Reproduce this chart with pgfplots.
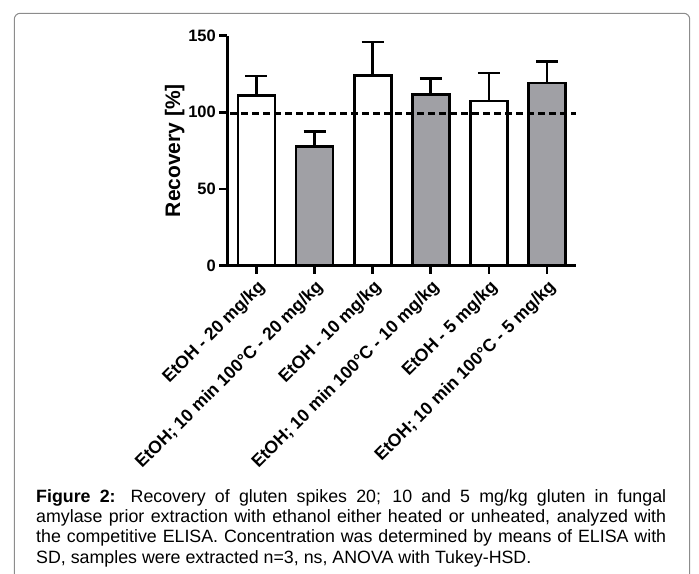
\documentclass[border=0pt]{standalone}
\usepackage{fontspec}
\setmainfont{Liberation Sans}
\usepackage{pgfplots}
\pgfplotsset{compat=1.18}
\definecolor{bargray}{RGB}{160,160,165}
\definecolor{framegray}{RGB}{140,140,140}
\begin{document}
\begin{tikzpicture}
\path[use as bounding box] (0,0) rectangle (699bp,574bp);
\draw[framegray, line width=1bp, rounded corners=6bp] (14.3bp,-10bp) -- (14.3bp,560.7bp) -- (689.7bp,560.7bp) -- (689.7bp,-10bp);
\begin{axis}[
  at={(227.3bp,308.5bp)}, anchor=south west,
  scale only axis, width=348.9bp, height=229.8bp,
  xmin=-0.5, xmax=5.5, ymin=0, ymax=150,
  clip=false,
  axis lines=left,
  axis line style={-, line width=2.7bp, black},
  tick align=outside,
  major tick length=8bp,
  tick style={line width=2.7bp, black},
  xtick={0,1,2,3,4,5},
  xticklabels={{EtOH - 20 mg/kg},{EtOH; 10 min 100°C - 20 mg/kg},{EtOH - 10 mg/kg},{EtOH; 10 min 100°C - 10 mg/kg},{EtOH - 5 mg/kg},{EtOH; 10 min 100°C - 5 mg/kg}},
  xticklabel style={rotate=45, anchor=north east, font=\fontsize{17.6bp}{19bp}\selectfont\bfseries},
  ytick={0,50,100,150},
  yticklabel style={font=\fontsize{16.5bp}{18bp}\selectfont\bfseries},
  /pgf/number format/assume math mode=true,
  ylabel={Recovery [\%]},
  ylabel shift=-3bp,
  ylabel style={font=\fontsize{21bp}{23bp}\selectfont\bfseries},
]
\addplot[ybar, bar width=37bp, bar shift=0pt, draw=black, fill=white, line width=2.7bp,
  error bars/.cd, y dir=plus, y explicit, error mark=|, error bar style={line width=2.7bp, black}, error mark options={line width=2.7bp, mark size=11bp, black}]
  coordinates {(0,110.9) +- (0,12.8) (2,123.9) +- (0,22.0) (4,107.4) +- (0,18.3)};
\addplot[ybar, bar width=37bp, bar shift=0pt, draw=black, fill=bargray, line width=2.7bp,
  error bars/.cd, y dir=plus, y explicit, error mark=|, error bar style={line width=2.7bp, black}, error mark options={line width=2.7bp, mark size=11bp, black}]
  coordinates {(1,77.6) +- (0,9.8) (3,111.5) +- (0,10.7) (5,119.2) +- (0,13.8)};
\addplot[black, line width=2.7bp, dash pattern=on 6.5bp off 4.5bp] coordinates {(-0.45,99) (5.5,99)};
\end{axis}
\node[anchor=base west, inner sep=0pt, font=\fontsize{17.8bp}{20bp}\selectfont] at (36bp,71.3bp) {\makebox[630bp][s]{\textbf{Figure 2:} Recovery of gluten spikes 20; 10 and 5 mg/kg gluten in fungal}};
\node[anchor=base west, inner sep=0pt, font=\fontsize{17.8bp}{20bp}\selectfont] at (36bp,51.2bp) {\makebox[630bp][s]{amylase prior extraction with ethanol either heated or unheated, analyzed with}};
\node[anchor=base west, inner sep=0pt, font=\fontsize{17.8bp}{20bp}\selectfont] at (36bp,31.1bp) {\makebox[630bp][s]{the competitive ELISA. Concentration was determined by means of ELISA with}};
\node[anchor=base west, inner sep=0pt, font=\fontsize{17.8bp}{20bp}\selectfont] at (36bp,11.0bp) {SD, samples were extracted n=3, ns, ANOVA with Tukey-HSD.};
\end{tikzpicture}
\end{document}
